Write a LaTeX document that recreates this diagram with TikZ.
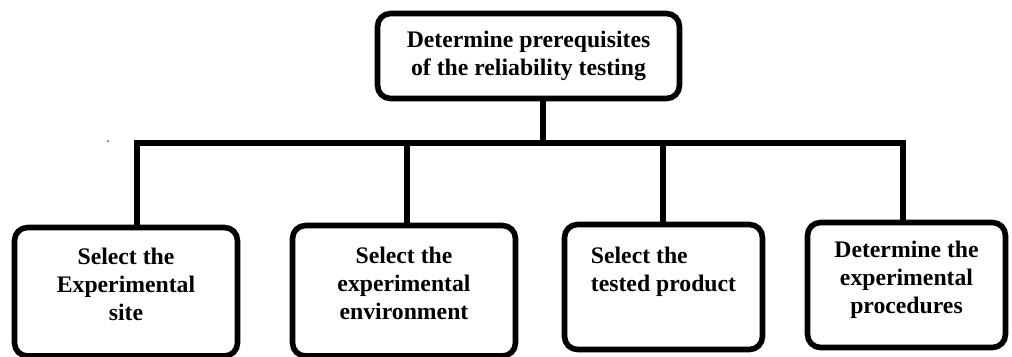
\documentclass[tikz,border=0pt]{standalone}
\usepackage{fontspec}
\setmainfont{Liberation Serif}
\usepackage{xcolor}
\usetikzlibrary{positioning,calc}
\definecolor{punto}{RGB}{110,150,205}

\begin{document}
\begin{tikzpicture}[x=0.02cm,y=-0.02cm,
box/.style={draw,line width=3.2pt,rounded corners=0.26cm,align=center,inner sep=0pt,font=\fontsize{13.5}{16}\selectfont\bfseries},
con/.style={line width=3pt}
]
\useasboundingbox (0,0) rectangle (1012,356);

\node[box,minimum width=6.04cm,minimum height=1.7cm] (top) at (528.5,56) {Determine prerequisites\\of the reliability testing};

\node[box,minimum width=4.46cm,minimum height=2.57cm,text depth=0.3cm] (site) at (126,291.75) {Select the\\Experimental\\site};
\node[box,minimum width=4.46cm,minimum height=2.61cm,text depth=0.3cm] (env) at (404,290.75) {Select the\\experimental\\environment};
\node[box,minimum width=3.96cm,minimum height=2.5cm,align=left,text depth=0.7cm] (prod) at (663.5,287) {Select the\\tested product};
\node[box,minimum width=3.96cm,minimum height=2.5cm,text depth=0.3cm] (proc) at (906.5,285) {Determine the\\experimental\\procedures};

\coordinate (bus) at (543,143);
\coordinate (d1) at (137,143);
\coordinate (d2) at (407,143);
\coordinate (d3) at (663,143);
\coordinate (d4) at (903,143);

\draw[con] (top.south -| bus) -- (bus);
\draw[con] (site.north -| d1) -- (d1) -- (d4) -- (proc.north -| d4);
\foreach \b/\d in {env/d2,prod/d3} \draw[con] (\d) -- (\b.north -| \d);

\fill[punto] (108,141) circle[radius=0.03cm];
\end{tikzpicture}
\end{document}
